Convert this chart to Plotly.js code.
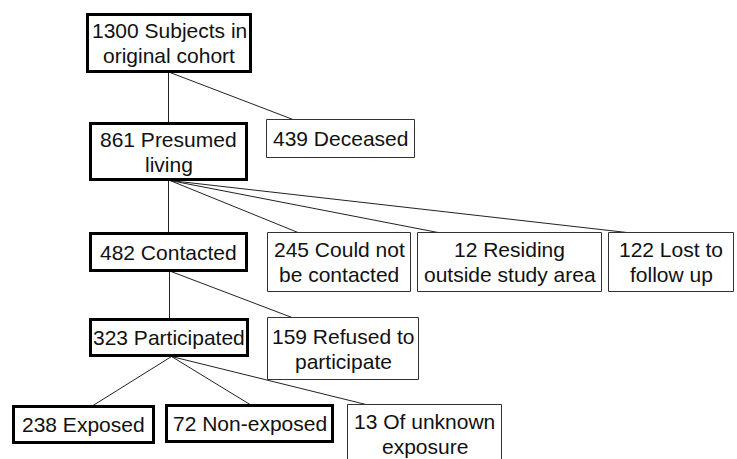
<!DOCTYPE html>
<html>
<head>
<meta charset="utf-8">
<script src="https://cdn.plot.ly/plotly-3.0.1.min.js"></script>
<style>html,body{margin:0;padding:0;background:#fff;}#chart{width:737px;height:459px;}</style>
</head>
<body>
<div id="chart"></div>
<script>
// ---- Data ----
const counts = [1300, 861, 439, 482, 245, 12, 122, 323, 159, 238, 72, 13];
const labels = ["Subjects in<br>original cohort", "Presumed<br>living", "Deceased", "Contacted",
  "Could not<br>be contacted", "Residing<br>outside study area", "Lost to<br>follow up",
  "Participated", "Refused to<br>participate", "Exposed", "Non-exposed", "Of unknown<br>exposure"];
const parents = [null, 0, 0, 1, 1, 1, 1, 3, 3, 7, 7, 7];
const mainPath = [true, true, false, true, false, false, false, true, false, true, true, false];

// ---- Layout (pixel positions of boxes: x0, x1, y0, y1) ----
const boxes = [
  [87.5, 250.5, 14.5, 71.5],
  [90.5, 246.5, 123.5, 179.5],
  [266.5, 414.5, 119.5, 157.5],
  [90.5, 246.5, 233.5, 270.5],
  [267.5, 410.5, 232.5, 291.5],
  [417.5, 601.5, 232.5, 291.5],
  [608.5, 733.5, 232.5, 291.5],
  [90.5, 247.5, 319.5, 355.5],
  [267.5, 418.5, 317.5, 379.5],
  [13.5, 153.5, 406.5, 442.5],
  [166.5, 332.5, 405.5, 441.5],
  [347.5, 501.5, 404.5, 475]
];
// connector end x on child top (for diagonal branches)
const edgeEndX = [null, 168.5, 293, 168.5, 298, 438, 627, 169.5, 292, 93, 250, 366];
const edgeStartX = [null, 168.5, 170, 168.5, 170, 170, 170, 169.5, 171, 171.5, 171.5, 171.5];
const lineGap = 25;

const traces = [];
for (let i = 0; i < counts.length; i++) {
  const p = parents[i];
  if (p === null) continue;
  const pb = boxes[p], cb = boxes[i];
  const y0 = pb[3] + (mainPath[p] ? 1 : 0);
  const y1 = cb[2] - (mainPath[i] ? 1 : 0);
  traces.push({
    type: 'scatter', mode: 'lines', hoverinfo: 'skip', showlegend: false,
    x: [edgeStartX[i], edgeEndX[i]], y: [y0, y1],
    line: {color: '#222', width: 1}
  });
}

const shapes = boxes.map((b, i) => ({
  type: 'rect', xref: 'x', yref: 'y',
  x0: b[0], x1: b[1], y0: b[2], y1: b[3],
  line: {color: mainPath[i] ? '#000' : '#333', width: mainPath[i] ? 3 : 1},
  fillcolor: 'rgba(0,0,0,0)', layer: 'above'
}));

const annotations = [];
boxes.forEach((b, i) => {
  const lines = (counts[i] + ' ' + labels[i]).split('<br>');
  const cy = i === 11 ? 434 : (b[2] + b[3]) / 2;
  lines.forEach((t, k) => {
    annotations.push({
      xref: 'x', yref: 'y', showarrow: false,
      x: (b[0] + b[1]) / 2,
      y: cy + (k - (lines.length - 1) / 2) * lineGap,
      text: t, align: 'center',
      font: {family: 'Liberation Sans, Arial, sans-serif', size: 21, color: '#111'}
    });
  });
});

const layout = {
  width: 737, height: 459,
  margin: {l: 0, r: 0, t: 0, b: 0},
  paper_bgcolor: '#fff', plot_bgcolor: '#fff',
  xaxis: {range: [0, 737], visible: false, fixedrange: true},
  yaxis: {range: [459, 0], visible: false, fixedrange: true},
  shapes: shapes, annotations: annotations, showlegend: false
};

Plotly.newPlot('chart', traces, layout, {staticPlot: true, displayModeBar: false});
</script>
</body>
</html>
